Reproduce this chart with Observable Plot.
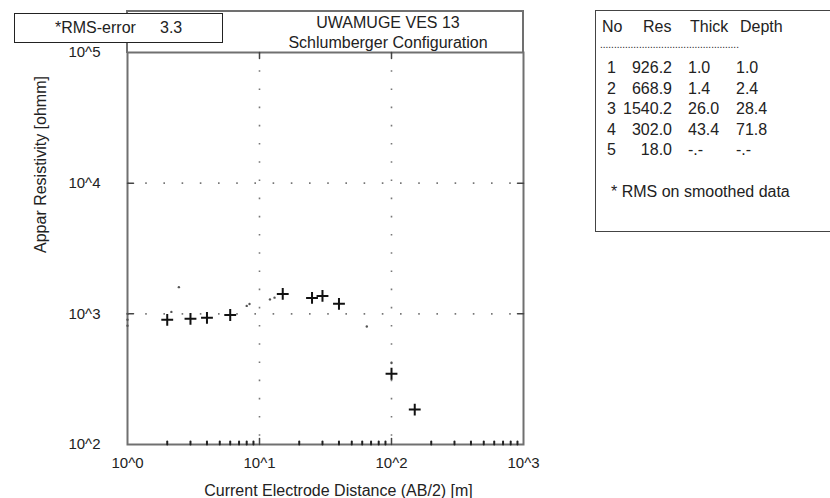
<!DOCTYPE html>
<html>
<head>
<meta charset="utf-8">
<script src="https://cdn.jsdelivr.net/npm/d3@7"></script>
<script src="https://cdn.jsdelivr.net/npm/@observablehq/plot@0.6"></script>
<style>
  html, body { margin: 0; padding: 0; background: #fff; }
  #wrap { position: relative; width: 830px; height: 498px; overflow: hidden; font-family: "Liberation Sans", Arial, sans-serif; color: #222; }
  #chart { position: absolute; left: 0; top: 0; }
  .box { position: absolute; box-sizing: border-box; }
  .lbl { position: absolute; white-space: pre; line-height: 20px; height: 20px; }
</style>
</head>
<body>
<div id="wrap">
  <div id="chart"></div>
</div>
<script>
// ---- data ----
const title1 = "UWAMUGE VES 13";
const title2 = "Schlumberger Configuration";
const rmsLabel = "*RMS-error";
const rmsValue = "3.3";
const xTitle = "Current Electrode Distance (AB/2) [m]";
const yTitle = "Appar Resistivity [ohmm]";

// measured apparent resistivity (bold + markers)
const measuredAB = [2, 3, 4, 6, 15, 25, 30, 40, 100, 150];
const measuredRho = [900, 916, 932, 980, 1420, 1324, 1372, 1192, 348, 185];
// faint smoothed-curve remnants (small dots)
const smoothAB = [1, 1, 1, 2.15, 2.45, 8, 8.4, 12, 13, 65, 100];
const smoothRho = [1000, 900, 810, 1035, 1600, 1150, 1190, 1290, 1330, 800, 420];

// layer table
const tableHeader = ["No", "Res", "Thick", "Depth"];
const layerNo = ["1", "2", "3", "4", "5"];
const layerRes = ["926.2", "668.9", "1540.2", "302.0", "18.0"];
const layerThick = ["1.0", "1.4", "26.0", "43.4", "-.-"];
const layerDepth = ["1.0", "2.4", "28.4", "71.8", "-.-"];
const tableRule = "..................................................";
const tableNote = "* RMS on smoothed data";

const xMajor = [1, 10, 100, 1000];
const yMajor = [100, 1000, 10000, 100000];
const xMinor = [];
for (const dec of [1, 10, 100]) for (let m = 2; m <= 9; m++) xMinor.push(dec * m);

// ---- chart ----
const tickShape = { draw(context, l) { context.moveTo(0, 0); context.lineTo(0, -l); } };
const measured = measuredAB.map((x, i) => ({ x, y: measuredRho[i] }));
const smooth = smoothAB.map((x, i) => ({ x, y: smoothRho[i] }));
const sup = d => "10^" + Math.round(Math.log10(d));
const ink = "#222";

const chart = Plot.plot({
  width: 830,
  height: 498,
  marginLeft: 127,
  marginRight: 307,
  marginTop: 52,
  marginBottom: 54,
  style: { fontFamily: "Liberation Sans, Arial, sans-serif", fontSize: "15px", background: "transparent", color: ink },
  x: { type: "log", domain: [1, 1000], axis: null },
  y: { type: "log", domain: [100, 100000], axis: null },
  marks: [
    Plot.ruleX([10, 100], { stroke: "#777", strokeWidth: 1.6, strokeDasharray: "1.6,16.6" }),
    Plot.ruleY([1000, 10000], { stroke: "#777", strokeWidth: 1.6, strokeDasharray: "1.6,16.6" }),
    Plot.frame({ stroke: "#707070", strokeWidth: 2 }),
    // major ticks, inward on all sides
    Plot.vector(xMajor.slice(1, 3), { x: d => d, frameAnchor: "bottom", anchor: "start", length: 6, rotate: 0, shape: tickShape, stroke: "#444", strokeWidth: 1.5 }),
    Plot.vector(xMajor.slice(1, 3), { x: d => d, frameAnchor: "top", anchor: "start", length: 6, rotate: 180, shape: tickShape, stroke: "#444", strokeWidth: 1.5 }),
    Plot.vector(xMinor, { x: d => d, frameAnchor: "bottom", anchor: "start", length: 3, rotate: 0, shape: tickShape, stroke: "#222", strokeWidth: 2 }),
    Plot.vector(yMajor.slice(1, 3), { y: d => d, frameAnchor: "left", anchor: "start", length: 6, rotate: 90, shape: tickShape, stroke: "#444", strokeWidth: 1.5 }),
    Plot.vector(yMajor.slice(1, 3), { y: d => d, frameAnchor: "right", anchor: "start", length: 6, rotate: -90, shape: tickShape, stroke: "#444", strokeWidth: 1.5 }),
    // tick labels
    Plot.text(xMajor, { x: d => d, frameAnchor: "bottom", lineAnchor: "middle", dy: 19, text: sup, fontSize: 15, fill: ink }),
    Plot.text(yMajor, { y: d => d, frameAnchor: "left", lineAnchor: "middle", textAnchor: "end", dx: -27, text: sup, fontSize: 15, fill: ink }),
    // axis titles
    Plot.text([xTitle], { frameAnchor: "bottom", lineAnchor: "middle", textAnchor: "middle", dx: 13, dy: 46, text: d => d, fontSize: 16, fill: ink }),
    Plot.text([yTitle], { frameAnchor: "left", lineAnchor: "middle", textAnchor: "middle", dx: -87, dy: -84, rotate: -90, text: d => d, fontSize: 16, fill: ink }),
    // data
    Plot.dot(smooth, { x: "x", y: "y", r: 1.2, fill: "#555", stroke: "none" }),
    Plot.dot(measured, { x: "x", y: "y", symbol: "plus", r: 3.9, stroke: "#111", strokeWidth: 2 })
  ]
});
document.getElementById("chart").appendChild(chart);

// ---- overlays (title box, rms box, layer table) ----
const wrap = document.getElementById("wrap");
function box(left, top, width, height, border, extra) {
  const b = document.createElement("div");
  b.className = "box";
  Object.assign(b.style, { left: left + "px", top: top + "px", width: width + "px", height: height + "px", border }, extra || {});
  wrap.appendChild(b);
  return b;
}
function label(text, x, cy, size, anchor) {
  const s = document.createElement("div");
  s.className = "lbl";
  s.textContent = text;
  s.style.fontSize = size + "px";
  s.style.top = (cy - 10) + "px";
  if (anchor === "middle") { s.style.left = (x - 200) + "px"; s.style.width = "400px"; s.style.textAlign = "center"; }
  else if (anchor === "end") { s.style.right = (830 - x) + "px"; }
  else { s.style.left = x + "px"; }
  wrap.appendChild(s);
}
// title box sitting on top of the plot frame
box(126, 10, 398, 43, "2px solid #707070", { borderBottom: "none" });
label(title1, 388, 23, 16, "middle");
label(title2, 388, 43, 16, "middle");
// rms box
box(14, 13, 209, 30, "1px solid #222", { background: "#fff" });
label(rmsLabel, 55, 28, 16, "start");
label(rmsValue, 160, 28, 16, "start");
// layer table
box(595, 10, 260, 222, "1px solid #444");
label(tableHeader[0], 602, 27, 16, "start");
label(tableHeader[1], 643, 27, 16, "start");
label(tableHeader[2], 690, 27, 16, "start");
label(tableHeader[3], 740, 27, 16, "start");
const rule = document.createElement("div");
rule.className = "lbl"; rule.textContent = tableRule; rule.style.fontSize = "10px";
rule.style.left = "600px"; rule.style.top = "35px"; rule.style.width = "144px"; rule.style.overflow = "hidden";
wrap.appendChild(rule);
layerNo.forEach((n, r) => {
  const cy = 68 + r * 20.5;
  label(n, 607, cy, 16, "start");
  label(layerRes[r], 672, cy, 16, "end");
  label(layerThick[r], 688, cy, 16, "start");
  label(layerDepth[r], 736, cy, 16, "start");
});
label(tableNote, 611, 192, 16, "start");
</script>
</body>
</html>
